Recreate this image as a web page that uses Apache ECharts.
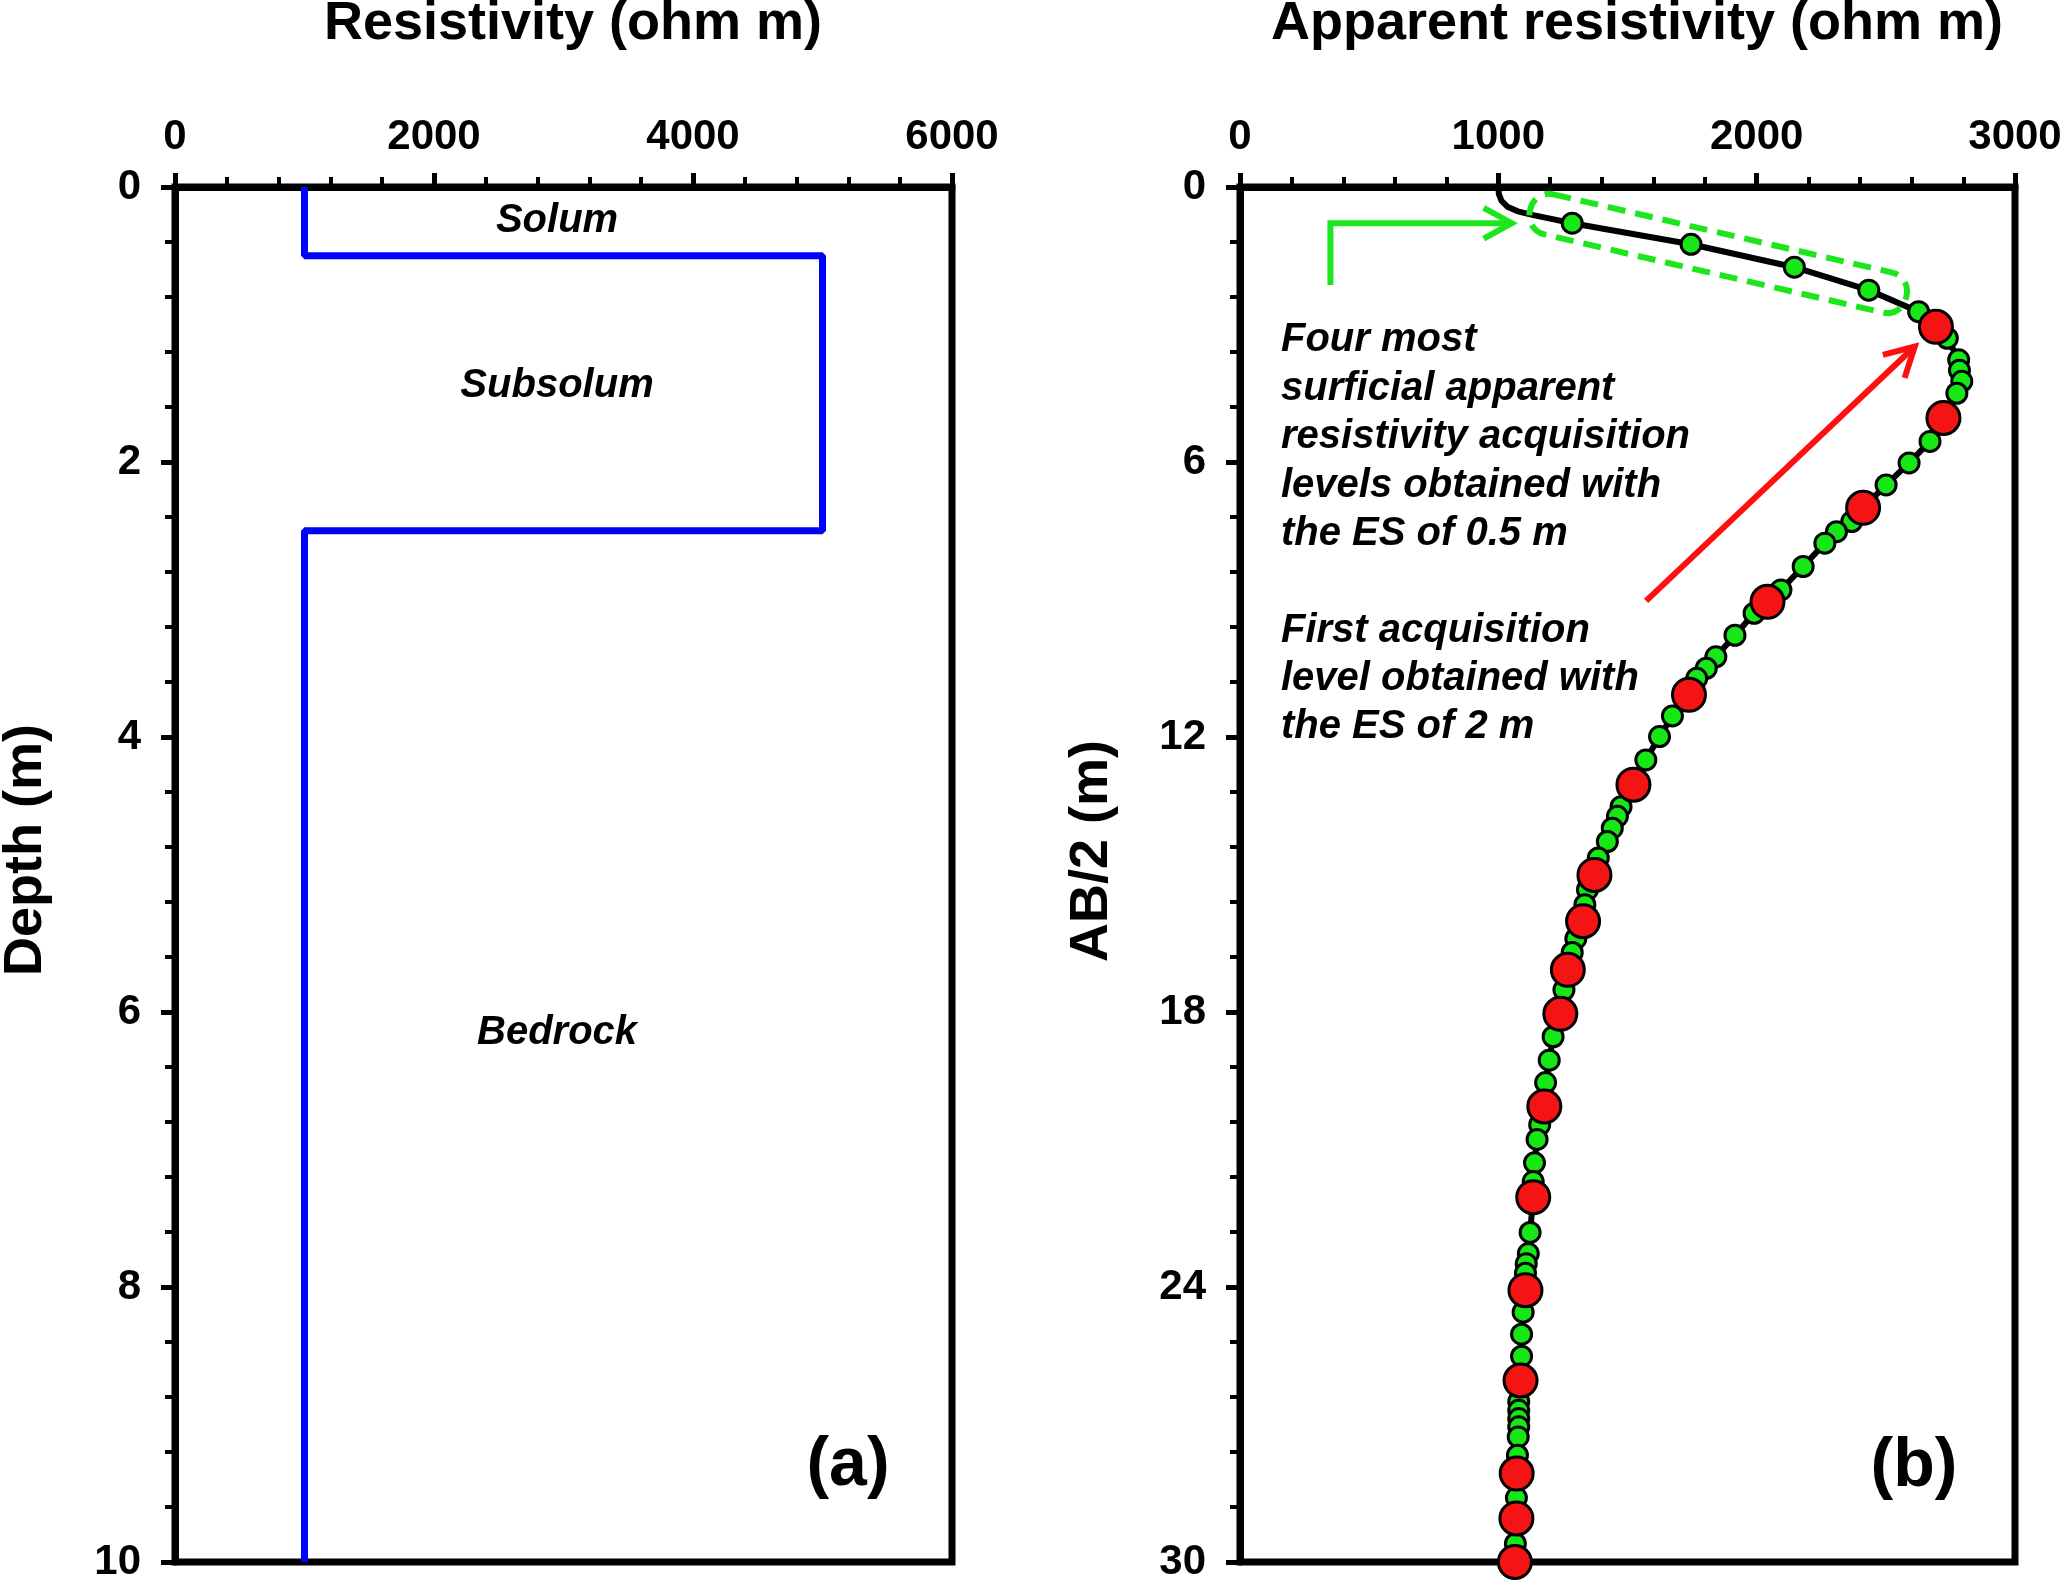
<!DOCTYPE html>
<html><head><meta charset="utf-8">
<script src="https://cdn.jsdelivr.net/npm/echarts@6/dist/echarts.min.js"></script>
<style>html,body{margin:0;padding:0;background:#fff}#c{width:2067px;height:1594px}</style>
</head><body><div id="c"></div>
<script>
const FONT = '"Liberation Sans", Arial, Helvetica, sans-serif';

// ---------- Panel (a): layered model ----------
const resistivityTicks = [0, 2000, 4000, 6000];
const depthTicks = [0, 2, 4, 6, 8, 10];
const layerNames = ['Solum', 'Subsolum', 'Bedrock'];
const layerRho = [1000, 5000, 1000];
const layerTop = [0, 0.5, 2.5];
const layerBottom = [0.5, 2.5, 10];
const layerLabelRho = [2950, 2950, 2950];
const layerLabelDepth = [0.25, 1.45, 6.15];

// ---------- Panel (b): apparent resistivity sounding ----------
const appResTicks = [0, 1000, 2000, 3000];
const ab2Ticks = [0, 6, 12, 18, 24, 30];
const curveHeadRho = [1000, 1002, 1012, 1035, 1075, 1140, 1210];
const curveHeadAB  = [0, 0.15, 0.3, 0.43, 0.53, 0.62, 0.7];
const greenRho = [1286, 1746, 2146, 2434, 2627, 2738, 2782, 2785, 2794, 2775,
  2671, 2590, 2501, 2368, 2309, 2264, 2180, 2094, 1990, 1916, 1842, 1805, 1768,
  1674, 1624, 1571, 1475, 1461, 1441, 1422, 1387, 1345, 1335, 1300, 1286,
  1254, 1212, 1197, 1183, 1160, 1150, 1140, 1135, 1123, 1116, 1108, 1105,
  1096, 1090, 1090, 1079, 1079, 1079, 1079, 1077, 1074, 1070, 1066];
const greenAB = [0.79, 1.25, 1.75, 2.25, 2.72, 3.30, 3.77, 4.00, 4.24, 4.50,
  5.55, 6.02, 6.50, 7.30, 7.52, 7.77, 8.28, 8.79, 9.30, 9.78, 10.25, 10.50, 10.72,
  11.54, 11.99, 12.50, 13.52, 13.73, 13.99, 14.28, 14.64, 15.33, 15.66, 16.40, 16.70,
  17.52, 18.54, 19.05, 19.54, 20.46, 20.78, 21.29, 21.70, 22.81, 23.27, 23.49, 23.70,
  24.55, 25.03, 25.51, 26.50, 26.69, 26.87, 27.05, 27.27, 27.67, 28.60, 29.60];
const redRho = [2694, 2723, 2412, 2042, 1738, 1523, 1372, 1328, 1269, 1240,
  1178, 1135, 1105, 1086, 1071, 1070, 1064];
const redAB = [3.05, 5.04, 7.00, 9.05, 11.08, 13.04, 15.01, 16.02, 17.08, 18.04,
  20.06, 22.04, 24.07, 26.04, 28.07, 29.05, 30.0];

const textA = 'Four most\nsurficial apparent\nresistivity acquisition\nlevels obtained with\nthe ES of 0.5 m';
const textB = 'First acquisition\nlevel obtained with\nthe ES of 2 m';

// ---------- build series data ----------
const stepLine = [];
layerRho.forEach((r, i) => { stepLine.push([r, layerTop[i]]); stepLine.push([r, layerBottom[i]]); });
const curve = [];
curveHeadRho.forEach((r, i) => curve.push([r, curveHeadAB[i]]));
const pts = [];
greenRho.forEach((r, i) => pts.push([r, greenAB[i]]));
redRho.forEach((r, i) => pts.push([r, redAB[i]]));
pts.sort((a, b) => a[1] - b[1]);
pts.forEach(p => curve.push(p));
const green = greenRho.map((r, i) => [r, greenAB[i]]);
const red = redRho.map((r, i) => [r, redAB[i]]);

const plain = v => String(v);
function xAx(gi, ticks) {
  return {
    type: 'value', gridIndex: gi, position: 'top',
    min: ticks[0], max: ticks[ticks.length - 1], interval: ticks[1] - ticks[0],
    axisLine: { show: true, onZero: false, lineStyle: { color: '#000', width: 7 } },
    axisTick: { show: true, inside: false, length: 14, lineStyle: { color: '#000', width: 5 } },
    minorTick: { show: true, splitNumber: 5, length: 10, lineStyle: { color: '#000', width: 4 } },
    splitLine: { show: false }, minorSplitLine: { show: false },
    axisLabel: { formatter: plain, fontSize: 42, fontWeight: 'bold', color: '#000', fontFamily: FONT, margin: 50, verticalAlign: 'middle' }
  };
}
function yAx(gi, ticks) {
  return {
    type: 'value', gridIndex: gi, position: 'left', inverse: true,
    min: ticks[0], max: ticks[ticks.length - 1], interval: ticks[1] - ticks[0],
    axisLine: { show: true, onZero: false, lineStyle: { color: '#000', width: 7 } },
    axisTick: { show: true, inside: false, length: 14, lineStyle: { color: '#000', width: 5 } },
    minorTick: { show: true, splitNumber: 5, length: 10, lineStyle: { color: '#000', width: 4 } },
    splitLine: { show: false }, minorSplitLine: { show: false },
    axisLabel: { formatter: plain, fontSize: 42, fontWeight: 'bold', color: '#000', fontFamily: FONT, margin: 34 }
  };
}

const chart = echarts.init(document.getElementById('c'), null, { renderer: 'canvas' });
chart.setOption({
  animation: false,
  backgroundColor: '#fff',
  grid: [
    { left: 175, right: 1115, top: 187, bottom: 32, show: true, borderColor: '#000', borderWidth: 7, backgroundColor: 'transparent' },
    { left: 1240, right: 52, top: 187, bottom: 32, show: true, borderColor: '#000', borderWidth: 7, backgroundColor: 'transparent' }
  ],
  xAxis: [xAx(0, resistivityTicks), xAx(1, appResTicks)],
  yAxis: [yAx(0, depthTicks), yAx(1, ab2Ticks)],
  series: [
    { type: 'line', xAxisIndex: 0, yAxisIndex: 0, data: stepLine, showSymbol: false, symbol: 'none',
      lineStyle: { color: '#0000ff', width: 7 }, z: 2 },
    { type: 'line', xAxisIndex: 1, yAxisIndex: 1, data: curve, showSymbol: false, symbol: 'none',
      lineStyle: { color: '#000', width: 6 }, z: 2 },
    { type: 'scatter', xAxisIndex: 1, yAxisIndex: 1, data: green, symbolSize: 20,
      itemStyle: { color: '#17e617', borderColor: '#000', borderWidth: 3, opacity: 1 }, z: 3 },
    { type: 'scatter', xAxisIndex: 1, yAxisIndex: 1, data: red, symbolSize: 33,
      itemStyle: { color: '#f41414', borderColor: '#000', borderWidth: 3, opacity: 1 }, z: 4 }
  ]
});

const pA = v => chart.convertToPixel({ xAxisIndex: 0, yAxisIndex: 0 }, v);
const pB = v => chart.convertToPixel({ xAxisIndex: 1, yAxisIndex: 1 }, v);
function chevron(tip, dir, len, ang) {
  const n = Math.hypot(dir[0], dir[1]);
  const bx = -dir[0] / n, by = -dir[1] / n;
  const rot = a => [tip[0] + len * (bx * Math.cos(a) - by * Math.sin(a)), tip[1] + len * (bx * Math.sin(a) + by * Math.cos(a))];
  return [rot(ang), tip, rot(-ang)];
}
const GREEN = '#1ee61e', RED = '#ff1010';
const g = [];
// titles and axis names
g.push({ type: 'text', x: 573, y: 24, style: { text: 'Resistivity (ohm m)', fontSize: 54, fontWeight: 'bold', fontFamily: FONT, fill: '#000', align: 'center', verticalAlign: 'middle' } });
g.push({ type: 'text', x: 1637, y: 24, style: { text: 'Apparent resistivity (ohm m)', fontSize: 54, fontWeight: 'bold', fontFamily: FONT, fill: '#000', align: 'center', verticalAlign: 'middle' } });
g.push({ type: 'text', x: 26, y: 850, rotation: Math.PI / 2, style: { text: 'Depth (m)', fontSize: 54, fontWeight: 'bold', fontFamily: FONT, fill: '#000', align: 'center', verticalAlign: 'middle' } });
g.push({ type: 'text', x: 1092, y: 851, rotation: Math.PI / 2, style: { text: 'AB/2 (m)', fontSize: 54, fontWeight: 'bold', fontFamily: FONT, fill: '#000', align: 'center', verticalAlign: 'middle' } });
// layer labels
layerNames.forEach((nm, i) => {
  const p = pA([layerLabelRho[i], layerLabelDepth[i]]);
  g.push({ type: 'text', x: p[0], y: p[1], z: 10, style: { text: nm, fontSize: 40, fontWeight: 'bold', fontStyle: 'italic', fontFamily: FONT, fill: '#000', align: 'center', verticalAlign: 'middle' } });
});
// panel letters
g.push({ type: 'text', x: 848, y: 1466, style: { text: '(a)', fontSize: 68, fontWeight: 'bold', fontFamily: FONT, fill: '#000', align: 'center', verticalAlign: 'middle' } });
g.push({ type: 'text', x: 1914, y: 1467, style: { text: '(b)', fontSize: 68, fontWeight: 'bold', fontFamily: FONT, fill: '#000', align: 'center', verticalAlign: 'middle' } });
// annotation texts
g.push({ type: 'text', x: 1281, y: 316, z: 10, style: { text: textA, fontSize: 40, lineHeight: 48.5, fontWeight: 'bold', fontStyle: 'italic', fontFamily: FONT, fill: '#000', align: 'left', verticalAlign: 'top' } });
g.push({ type: 'text', x: 1281, y: 607, z: 10, style: { text: textB, fontSize: 40, lineHeight: 48, fontWeight: 'bold', fontStyle: 'italic', fontFamily: FONT, fill: '#000', align: 'left', verticalAlign: 'top' } });
// dashed enclosure around the four shallow points
const rc = pB([1851, 1.45]);
g.push({ type: 'rect', x: rc[0], y: rc[1], rotation: -13 * Math.PI / 180, z: 9,
  shape: { x: -193, y: -20.5, width: 386, height: 41, r: 19 },
  style: { fill: 'none', stroke: GREEN, lineWidth: 6, lineDash: [18, 10] } });
// green L-arrow
const ga0 = pB([350, 2.14]), ga1 = pB([350, 0.79]), ga2 = pB([1052, 0.79]);
g.push({ type: 'polyline', z: 9, shape: { points: [ga0, ga1, ga2] }, style: { stroke: GREEN, lineWidth: 6, fill: 'none' } });
g.push({ type: 'polyline', z: 9, shape: { points: chevron(ga2, [1, 0], 32, 0.5) }, style: { stroke: GREEN, lineWidth: 6, fill: 'none' } });
// red arrow
const ra0 = pB([1572, 9.03]), ra1 = pB([2612, 3.48]);
g.push({ type: 'line', z: 9, shape: { x1: ra0[0], y1: ra0[1], x2: ra1[0], y2: ra1[1] }, style: { stroke: RED, lineWidth: 6 } });
g.push({ type: 'polyline', z: 9, shape: { points: chevron(ra1, [ra1[0] - ra0[0], ra1[1] - ra0[1]], 33, 0.5) }, style: { stroke: RED, lineWidth: 6, fill: 'none' } });
chart.setOption({ graphic: g });
</script></body></html>
